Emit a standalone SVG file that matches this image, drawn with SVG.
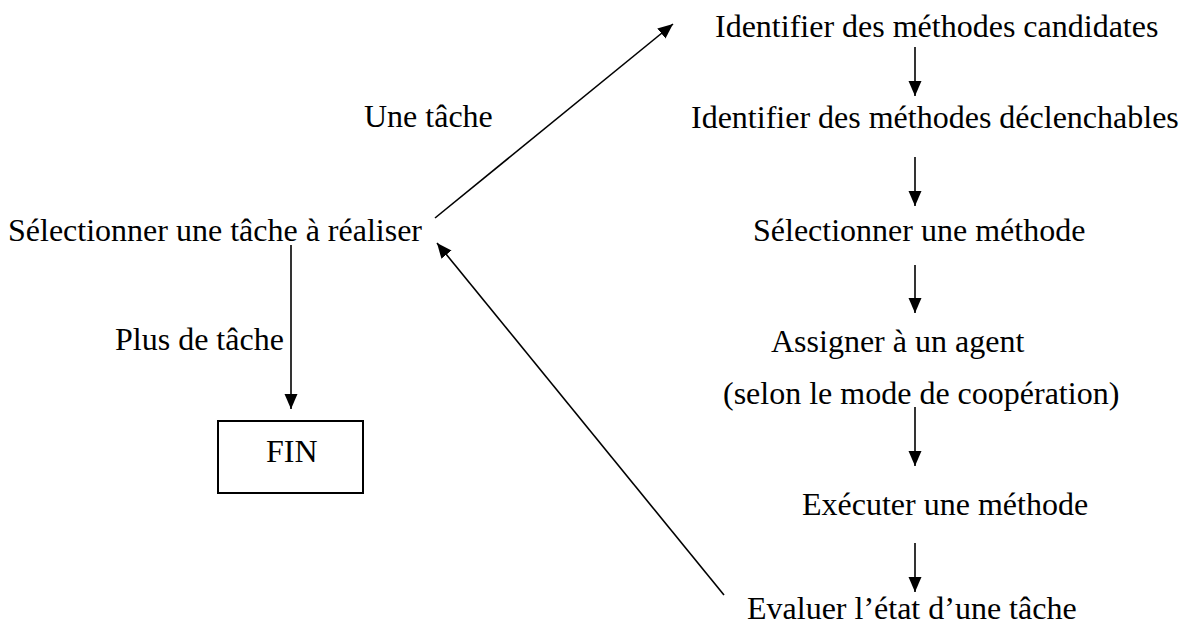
<svg xmlns="http://www.w3.org/2000/svg" width="1187" height="629" viewBox="0 0 1187 629">
<style>
text{font-family:"Liberation Serif","Times New Roman",serif;font-size:32px;fill:#000}
.c{stroke:#000;stroke-width:1.6;fill:none}
.box{stroke:#000;stroke-width:2;fill:#fff}
</style>
<defs>
<marker id="ah" markerUnits="userSpaceOnUse" markerWidth="15" markerHeight="15" viewBox="0 0 15 15" refX="15" refY="7.5" orient="auto">
<path d="M0,1 L15,7.5 L0,14 Z" fill="#000"/>
</marker>
</defs>
<rect width="1187" height="629" fill="#fff"/>
<g id="connectors">
<line class="c" x1="435" y1="218" x2="673" y2="24" marker-end="url(#ah)"/>
<line class="c" x1="724" y1="595" x2="437" y2="243" marker-end="url(#ah)"/>
<line class="c" x1="291" y1="245" x2="291" y2="409" marker-end="url(#ah)"/>
<line class="c" x1="915" y1="47" x2="915" y2="96" marker-end="url(#ah)"/>
<line class="c" x1="915" y1="157" x2="915" y2="206" marker-end="url(#ah)"/>
<line class="c" x1="915" y1="265" x2="915" y2="313" marker-end="url(#ah)"/>
<line class="c" x1="915" y1="407" x2="915" y2="466" marker-end="url(#ah)"/>
<line class="c" x1="915" y1="543" x2="915" y2="592" marker-end="url(#ah)"/>
<text x="364" y="127">Une tâche</text>
<text x="115" y="350">Plus de tâche</text>
</g>
<g id="select-task"><text x="8" y="241">Sélectionner une tâche à réaliser</text></g>
<g id="fin"><rect class="box" x="218" y="421" width="145" height="72"/><text x="266" y="462">FIN</text></g>
<g id="identify-candidates"><text x="715" y="37">Identifier des méthodes candidates</text></g>
<g id="identify-triggerable"><text x="691" y="128">Identifier des méthodes déclenchables</text></g>
<g id="select-method"><text x="753" y="241">Sélectionner une méthode</text></g>
<g id="assign-agent"><text x="771" y="352">Assigner à un agent</text><text x="723" y="404">(selon le mode de coopération)</text></g>
<g id="execute-method"><text x="802" y="515">Exécuter une méthode</text></g>
<g id="evaluate-task"><text x="747" y="619">Evaluer l’état d’une tâche</text></g>
</svg>
